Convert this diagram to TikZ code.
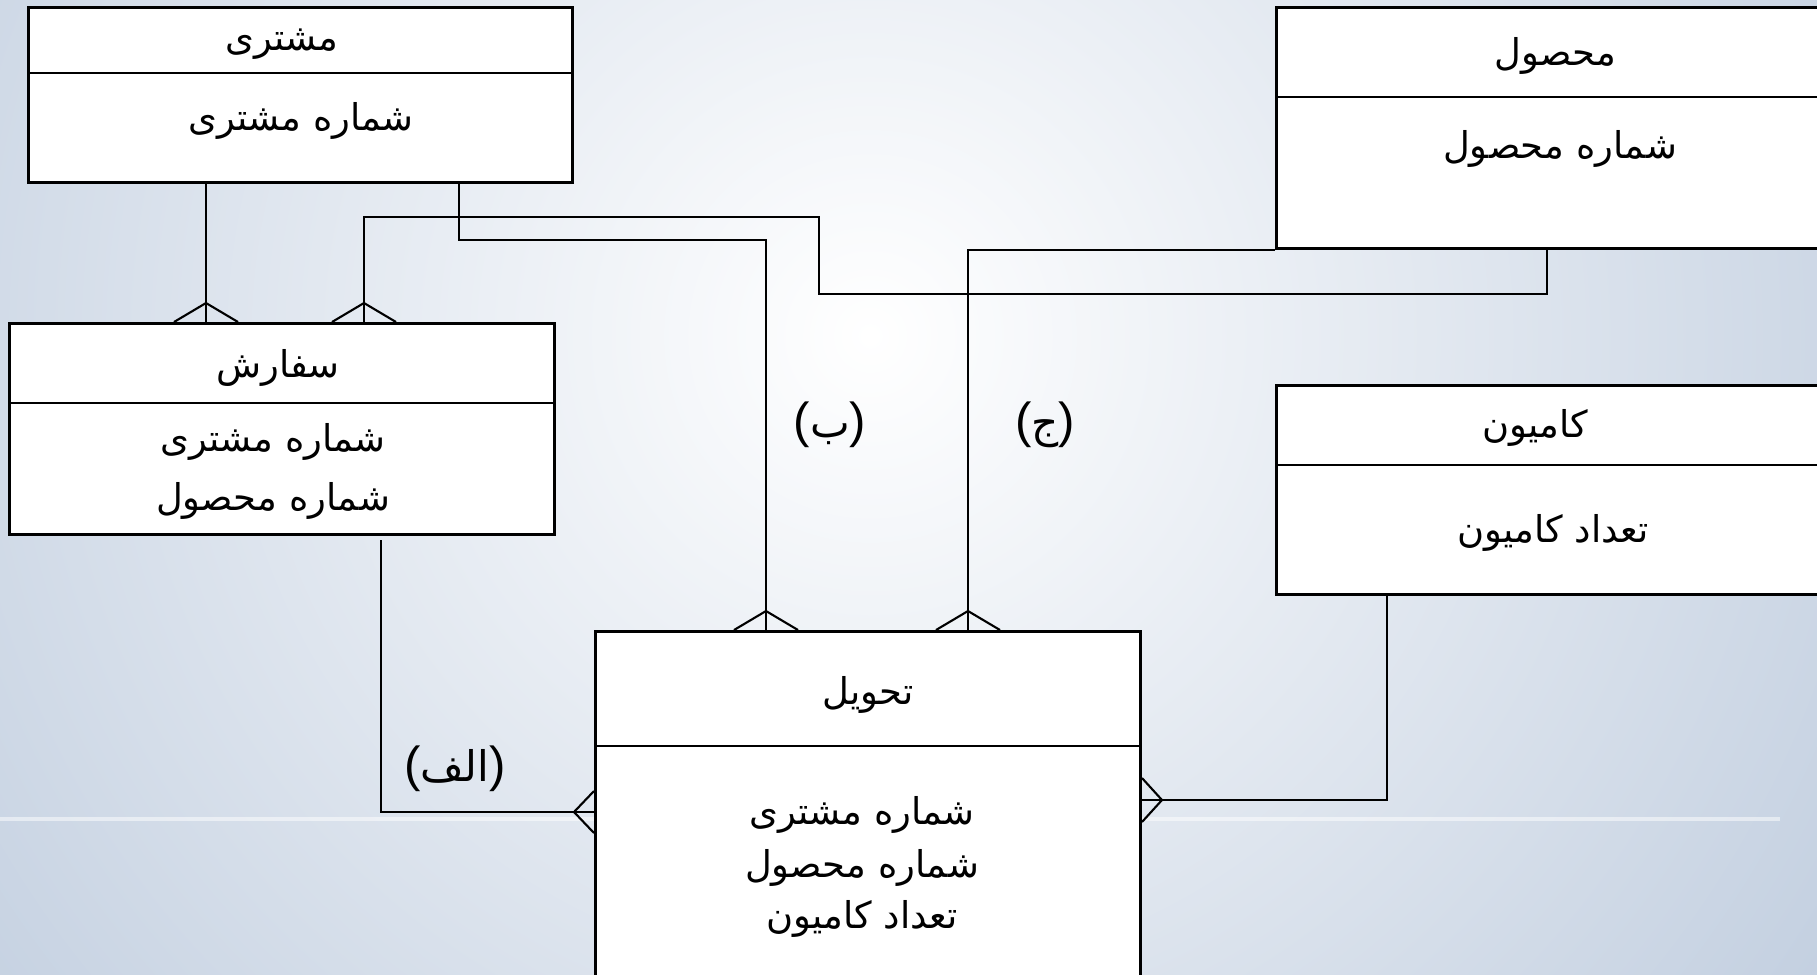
\documentclass[tikz,border=0pt]{standalone}
\usepackage{fontspec}
\newfontfamily\arabicfont[Script=Arabic]{DejaVu Sans}
\newfontfamily\latinfont{Liberation Sans}
\TeXXeTstate=1
\newcommand{\fa}[1]{\beginR#1\endR}
\newcommand{\paren}[1]{{\latinfont(}{\arabicfont\fontsize{12}{14}\selectfont\fa{#1}}{\latinfont)}}
\usetikzlibrary{calc}

\definecolor{bgedge}{HTML}{A9BBD3}

\begin{document}
\begin{tikzpicture}[x=0.1mm,y=-0.1mm,
	entity/.style={draw=black, line width=0.85pt, fill=white, anchor=north west, inner sep=0pt},
	entityline/.style={line width=0.6pt},
	link/.style={line width=0.6pt},
	field/.style={font=\arabicfont\fontsize{10.5}{12}\selectfont, inner sep=1pt},
	reltext/.style={font=\fontsize{14}{16}\selectfont, inner sep=1pt}]
	
	% background
	\useasboundingbox (0,0) rectangle (1817,974);
	\fill[bgedge] (0,0) rectangle (1817,974);
	\begin{scope}
		\clip (0,0) rectangle (1817,974);
		\shade[inner color=white, outer color=bgedge] (870,336) circle (1650);
		\draw[white, opacity=0.5, line width=0.4mm] (0,819) -- (1780,819);
	\end{scope}
	
	% entities
	\node[entity, minimum width=54.4mm, minimum height=17.5mm] (moshtari) at (27,6) {};
	\node[entity, minimum width=56mm, minimum height=24.1mm] (mahsul) at (1275,6) {};
	\node[entity, minimum width=54.5mm, minimum height=21.1mm] (sefaresh) at (8,322) {};
	\node[entity, minimum width=56mm, minimum height=20.9mm] (kamion) at (1275,384) {};
	\node[entity, minimum width=54.5mm, minimum height=35mm] (tahvil) at (594,630) {};
	\foreach \e/\d in {moshtari/67, mahsul/91, sefaresh/81, kamion/81, tahvil/116}
		\draw[entityline] ($(\e.north west)+(0,\d)$) -- ($(\e.north east)+(0,\d)$);
	
	\node[field] (moshtari-t) at (282,44) {\fa{مشتری}};
	\node[field] (moshtari-a) at (301,121) {\fa{شماره مشتری}};
	\node[field] (mahsul-t) at (1555,56) {\fa{محصول}};
	\node[field] (mahsul-a) at (1560,149) {\fa{شماره محصول}};
	\node[field] (sefaresh-t) at (278,368) {\fa{سفارش}};
	\node[field] (sefaresh-a1) at (273,442) {\fa{شماره مشتری}};
	\node[field] (sefaresh-a2) at (273,501) {\fa{شماره محصول}};
	\node[field] (kamion-t) at (1535,428) {\fa{کامیون}};
	\node[field] (kamion-a) at (1553,533) {\fa{تعداد کامیون}};
	\node[field] (tahvil-t) at (868,695) {\fa{تحویل}};
	\node[field] (tahvil-a1) at (862,815) {\fa{شماره مشتری}};
	\node[field] (tahvil-a2) at (862,868) {\fa{شماره محصول}};
	\node[field] (tahvil-a3) at (862,919) {\fa{تعداد کامیون}};
	
	% relationships
	\coordinate (colA) at (206,0);
	\coordinate (colB) at (364,217);
	\coordinate (bendB) at (819,294);
	\coordinate (riseB) at (1547,0);
	\coordinate (colC) at (459,240);
	\coordinate (dropC) at (766,0);
	\coordinate (dropD) at (968,0);
	\coordinate (topE) at (381,540);
	\coordinate (colE) at (381,812);
	\coordinate (colF) at (1387,800);
	
	\draw[link] (moshtari.south -| colA) -- (sefaresh.north -| colA);
	\draw[link] (mahsul.south -| riseB) |- (bendB) |- (colB) -- (sefaresh.north -| colB);
	\draw[link] (moshtari.south -| colC) -- (colC) -| (tahvil.north -| dropC);
	\draw[link] (mahsul.south west) -| (tahvil.north -| dropD);
	\draw[link] (topE) -- (colE) -- (tahvil.west |- colE);
	\draw[link] (kamion.south -| colF) -- (colF) -- (tahvil.east |- colF);
	
	% crow's feet
	\foreach \e/\c in {sefaresh/colA, sefaresh/colB, tahvil/dropC, tahvil/dropD}
		\draw[link] ($(\e.north -| \c)+(-32,0)$) -- ($(\e.north -| \c)+(0,-19)$) -- ($(\e.north -| \c)+(32,0)$);
	\draw[link] ($(tahvil.west |- colE)+(0,-21)$) -- ($(tahvil.west |- colE)+(-20,0)$) -- ($(tahvil.west |- colE)+(0,21)$);
	\draw[link] ($(tahvil.east |- colF)+(0,-22)$) -- ($(tahvil.east |- colF)+(20,0)$) -- ($(tahvil.east |- colF)+(0,22)$);
	
	\node[reltext] (rel-b) at (830,425) {\paren{ب}};
	\node[reltext] (rel-j) at (1045,425) {\paren{ج}};
	\node[reltext] (rel-alef) at (455,769) {\paren{الف}};
\end{tikzpicture}
\end{document}
